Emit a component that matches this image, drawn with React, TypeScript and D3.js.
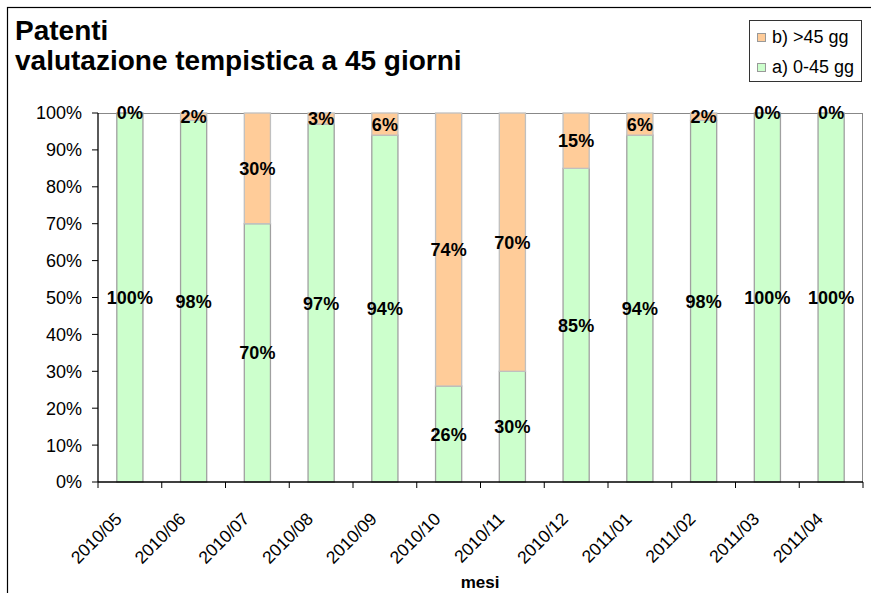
import React from "react";
import * as d3 from "d3";

const months = ["2010/05","2010/06","2010/07","2010/08","2010/09","2010/10","2010/11","2010/12","2011/01","2011/02","2011/03","2011/04"];
const seriesA = [100, 98, 70, 97, 94, 26, 30, 85, 94, 98, 100, 100]; // a) 0-45 gg
const seriesB = [0, 2, 30, 3, 6, 74, 70, 15, 6, 2, 0, 0]; // b) >45 gg
const yTicks = [0, 10, 20, 30, 40, 50, 60, 70, 80, 90, 100];
const legendItems = [
  { label: "b) >45 gg", color: "#FFCC99" },
  { label: "a) 0-45 gg", color: "#CCFFCC" },
];

const W = 871, H = 593;
const left = 98, right = 863, top = 113, bottom = 482;
const FONT = "'Liberation Sans', Arial, sans-serif";

export default function App() {
  const x = d3.scaleBand<string>().domain(months).range([left, right]).padding(0);
  const y = d3.scaleLinear().domain([0, 100]).range([bottom, top]);
  const bw = x.bandwidth() * 0.41;
  const stack = months.map((m, i) => ({ m, a: seriesA[i], b: seriesB[i] }));
  const bounds = d3.range(months.length + 1).map(i => left + i * x.step());

  return (
    <svg width={W} height={H} style={{ position: "absolute", left: 0, top: 0, background: "#fff" }} fontFamily={FONT}>
      <rect x={0} y={0} width={W} height={H} fill="#fff" />
      <rect x={7.5} y={7.5} width={W + 20} height={H + 20} fill="none" stroke="#000" strokeWidth={1.2} />
      <text x={15} y={40} fontSize={28} fontWeight="bold">Patenti</text>
      <text x={15} y={70} fontSize={28} fontWeight="bold">valutazione tempistica a 45 giorni</text>

      {/* plot border */}
      <line x1={left} x2={right} y1={top + 0.5} y2={top + 0.5} stroke="#888" />
      <line x1={right - 0.5} x2={right - 0.5} y1={top} y2={bottom} stroke="#888" />

      {/* bars */}
      {stack.map(d => {
        const cx = x(d.m)! + x.bandwidth() / 2;
        return (
          <g key={d.m}>
            <rect x={cx - bw / 2} y={y(d.a)} width={bw} height={y(0) - y(d.a)} fill="#CCFFCC" stroke="#A0A0A0" strokeWidth={1.3} />
            {d.b > 0 && (
              <rect x={cx - bw / 2} y={y(d.a + d.b)} width={bw} height={y(d.a) - y(d.a + d.b)} fill="#FFCC99" stroke="#C0C0C0" strokeWidth={1.3} />
            )}
          </g>
        );
      })}

      {/* labels */}
      {stack.map(d => {
        const cx = x(d.m)! + x.bandwidth() / 2;
        return (
          <g key={"l" + d.m} fontSize={18} fontWeight="bold" textAnchor="middle">
            <text x={cx} y={y(d.a / 2)} dy="0.36em">{d.a}%</text>
            <text x={cx} y={y(d.a + d.b / 2)} dy="0.36em">{d.b}%</text>
          </g>
        );
      })}

      {/* y axis */}
      <line x1={left} x2={left} y1={top} y2={bottom} stroke="#000" strokeWidth={1.3} />
      {yTicks.map(t => (
        <g key={t}>
          <line x1={left - 6} x2={left} y1={y(t)} y2={y(t)} stroke="#000" />
          <text x={82} y={y(t)} dy="0.36em" textAnchor="end" fontSize={18}>{t}%</text>
        </g>
      ))}

      {/* x axis */}
      <line x1={left} x2={right} y1={bottom} y2={bottom} stroke="#000" strokeWidth={1.3} />
      {bounds.map((b, i) => (
        <line key={i} x1={b} x2={b} y1={bottom} y2={bottom + 6} stroke="#000" />
      ))}
      {months.map(m => {
        const cx = x(m)! + x.bandwidth() / 2;
        return (
          <text key={m} transform={`translate(${cx - 7},${bottom + 38}) rotate(-45)`} textAnchor="end" fontSize={17.5}>{m}</text>
        );
      })}
      <text x={480} y={588} textAnchor="middle" fontSize={17} fontWeight="bold">mesi</text>

      {/* legend */}
      <rect x={749.5} y={20.5} width={112} height={61} fill="#fff" stroke="#333" />
      {legendItems.map((it, i) => (
        <g key={it.label}>
          <rect x={757.5} y={33.5 + i * 30} width={8} height={8} fill={it.color} stroke="#999" />
          <text x={772} y={42.5 + i * 30} fontSize={18}>{it.label}</text>
        </g>
      ))}
    </svg>
  );
}
